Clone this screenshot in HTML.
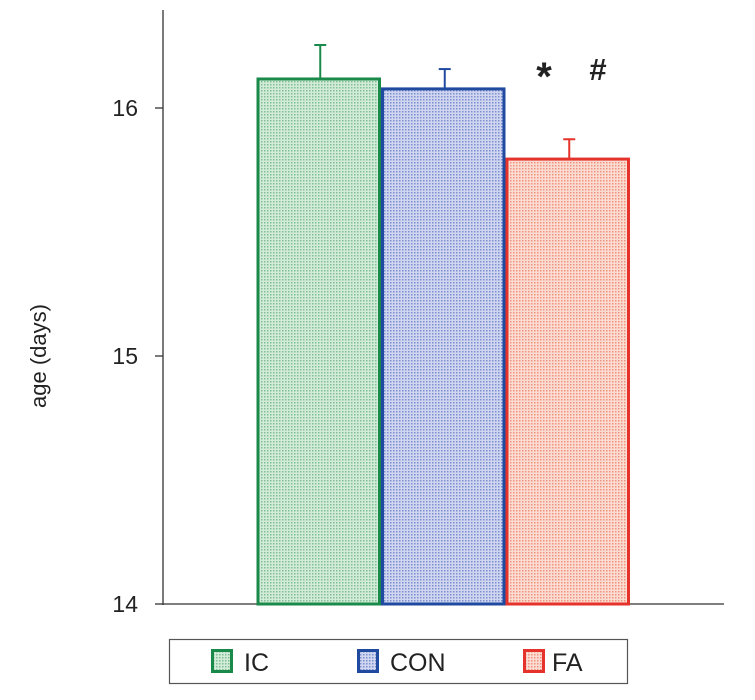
<!DOCTYPE html>
<html><head><meta charset="utf-8"><style>
body{margin:0;background:#fff;}
svg text{font-family:"Liberation Sans",sans-serif;fill:#222;}
</style></head><body>
<svg width="755" height="695">
<defs>
<pattern id="pg" width="3" height="3" patternUnits="userSpaceOnUse"><rect width="3" height="3" fill="#d3ebd9"/><rect width="1.5" height="1.5" fill="#7fbf92"/></pattern>
<pattern id="pb" width="3" height="3" patternUnits="userSpaceOnUse"><rect width="3" height="3" fill="#d0d6ef"/><rect width="1.5" height="1.5" fill="#7d8fcf"/></pattern>
<pattern id="pr" width="3" height="3" patternUnits="userSpaceOnUse"><rect width="3" height="3" fill="#fbdcd3"/><rect width="1.5" height="1.5" fill="#f0927e"/></pattern>
</defs>
<g id="axes"></g>
<g id="bars"></g>
<text x="544" y="90" font-size="40" font-weight="bold" text-anchor="middle">*</text>
<text x="598" y="80" font-size="31" font-weight="bold" text-anchor="middle">#</text>
<text transform="translate(46,356) rotate(-90)" font-size="22" text-anchor="middle">age (days)</text>
<rect x="169.5" y="639.5" width="458" height="44" fill="none" stroke="#555" stroke-width="1.2"/>
<g id="legend"></g>
</svg>
<script>
const categories=["IC","CON","FA"];
const means=[16.117,16.077,15.794];
const errors=[0.137,0.08,0.08];
const ticks=[14,15,16];
const colors=["#1a8a4a","#1f4aa0","#e5322a"];
const fills=["url(#pg)","url(#pb)","url(#pr)"];
const NS="http://www.w3.org/2000/svg";
const y=v=>604-(v-14)*248;
const x0=258,bw=124.5;
function mk(t,a,p){const e=document.createElementNS(NS,t);for(const k in a)e.setAttribute(k,a[k]);p.appendChild(e);return e;}
const ax=document.getElementById('axes');
let l=mk('line',{x1:163,y1:10,x2:163,y2:605,stroke:'#333','stroke-width':1.3},ax);


l=mk('line',{x1:163,y1:604,x2:724,y2:604,stroke:'#333','stroke-width':1.3},ax);


ticks.forEach(t=>{
 const tk=mk('line',{x1:155,y1:y(t),x2:163,y2:y(t),stroke:'#333','stroke-width':1.3},ax);
 
 
 const tx=mk('text',{x:138,y:y(t)+8,'font-size':23,'text-anchor':'end'},ax);tx.textContent=t;
 
 
});
const bg=document.getElementById('bars');
categories.forEach((c,i)=>{
 const bx=x0+i*bw, cx=bx+bw/2;
 const el=mk('line',{x1:cx,y1:y(means[i]),x2:cx,y2:y(means[i]+errors[i]),stroke:colors[i],'stroke-width':2},bg);
 
 
 const cap=mk('line',{x1:cx-6,y1:y(means[i]+errors[i]),x2:cx+6,y2:y(means[i]+errors[i]),stroke:colors[i],'stroke-width':2},bg);
 
 
 const r=mk('rect',{x:bx,y:y(means[i]),width:bw-3,height:604-y(means[i]),fill:fills[i],stroke:colors[i],'stroke-width':3},bg);
 
 
});
const lg=document.getElementById('legend');
const lx=[211,357,523],tx=[244,390,552];
categories.forEach((c,i)=>{
 const r=mk('rect',{x:lx[i]+1.5,y:650.5,width:19,height:21,fill:fills[i],stroke:colors[i],'stroke-width':3},lg);
 
 
 const t=mk('text',{x:tx[i],y:671,'font-size':25},lg);t.textContent=c;
 
 
});
</script>
</body></html>
